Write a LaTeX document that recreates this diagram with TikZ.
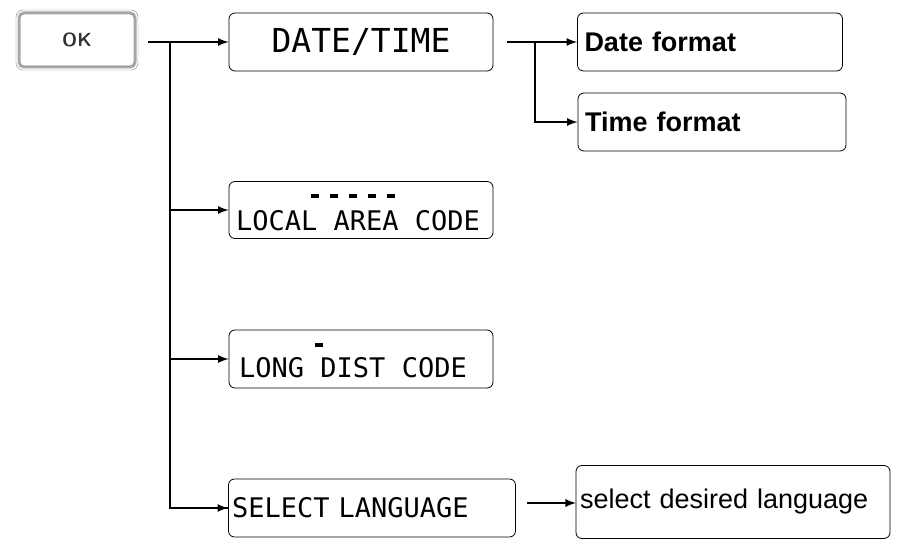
\documentclass[tikz,border=0pt]{standalone}
\usepackage{fontspec}
\setmainfont{Liberation Sans}
\setmonofont{DejaVu Sans Mono}
\usetikzlibrary{arrows}

\tikzset{
  lcd/.style={draw, thick, rounded corners=6pt, font=\ttfamily\fontsize{27}{27}\selectfont, inner sep=0pt},
  menu/.style={draw, thick, rounded corners=6pt, font=\fontsize{27}{27}\selectfont, inner sep=0pt},
  link/.style={line width=2.6pt, -latex},
  wire/.style={line width=2.6pt}
}

\begin{document}
\begin{tikzpicture}[x=1pt, y=-1pt]
\useasboundingbox (0,0) rectangle (898,545);

% ok key
\node (ok) [draw=gray!70, line width=3pt, rounded corners=5pt, minimum width=116pt, minimum height=54pt, font=\sffamily\bfseries\fontsize{19}{19}\selectfont, text=gray!40!black] at (77,40) {OK};
\draw[gray, thin, rounded corners=7pt] (16,10) rectangle (138,70);

% screens
\node (dt) [lcd, minimum width=264pt, minimum height=58pt, font=\ttfamily\fontsize{33}{33}\selectfont] at (361,42) {DATE/TIME};
\node (lac) [lcd, minimum width=264pt, minimum height=57pt] at (361,210) {};
\node at (358,221) [font=\ttfamily\fontsize{27}{27}\selectfont] {LOCAL AREA CODE};
\foreach \i in {0,...,4}
  \fill (311+\i*19,194) rectangle ++(8,4);
\node (ldc) [lcd, minimum width=264pt, minimum height=58pt] at (361,359) {};
\node at (353,368) [font=\ttfamily\fontsize{27}{27}\selectfont] {LONG DIST CODE};
\fill (315,343) rectangle ++(8,4);
\node (sl) [lcd, minimum width=287pt, minimum height=58pt, text width=280pt, align=left] at (372,508) {SELECT\ LANGUAGE};

% menus
\node (df) [menu, minimum width=265pt, minimum height=58pt, text width=251pt, align=left, font=\bfseries\fontsize{27}{27}\selectfont] at (710,42) {Date format};
\node (tf) [menu, minimum width=268pt, minimum height=58pt, text width=254pt, align=left, font=\bfseries\fontsize{27}{27}\selectfont] at (712,122) {Time format};
\node (lang) [menu, minimum width=314pt, minimum height=73pt, text width=306pt, align=left] at (733,502) {select desired language};

% connectors
\coordinate (okout) at (148,42);
\coordinate (trunk) at (170,42);
\coordinate (dtout) at (507,42);
\coordinate (fork) at (535,42);
\coordinate (slout) at (527,503);
\coordinate (langin) at (576,503);
\draw[wire] (okout) -- (trunk);
\draw[link] (trunk) -- (dt.west);
\draw[wire] (trunk) |- (sl.west);
\draw[link] (trunk |- lac.west) -- (lac.west);
\draw[link] (trunk |- ldc.west) -- (ldc.west);
\draw[link] (trunk |- sl.west) -- (sl.west);
\draw[link] (dtout) -- (df.west);
\draw[link] (fork) |- (tf.west);
\draw[link] (slout) -- (langin);
\end{tikzpicture}
\end{document}
